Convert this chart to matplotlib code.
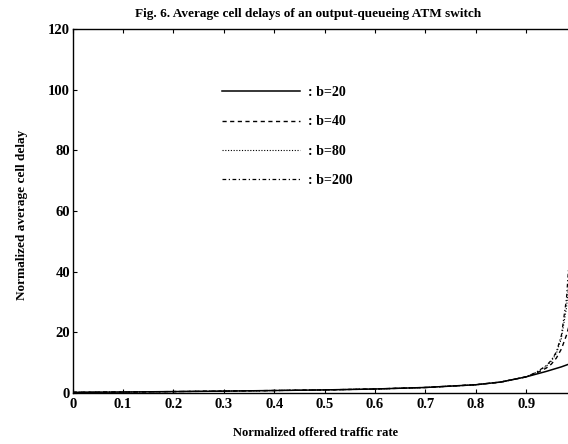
import matplotlib
matplotlib.use("Agg")
import matplotlib.pyplot as plt

rho = [0, 0.1, 0.2, 0.3, 0.4, 0.5, 0.6, 0.7, 0.8, 0.85, 0.9, 0.92, 0.94, 0.95, 0.96, 0.97, 0.98, 0.99]
d_b20 = [0.2, 0.3, 0.45, 0.6, 0.8, 1.0, 1.3, 1.8, 2.7, 3.6, 5.3, 6.2, 7.1, 7.6, 8.1, 8.6, 9.2, 9.8]
d_b40 = [0.2, 0.3, 0.45, 0.6, 0.8, 1.0, 1.3, 1.8, 2.7, 3.6, 5.3, 6.5, 8.2, 9.5, 11.5, 14.5, 19, 25]
d_b80 = [0.2, 0.3, 0.45, 0.6, 0.8, 1.0, 1.3, 1.8, 2.7, 3.6, 5.3, 6.7, 8.8, 10.5, 13, 18, 28, 45]
d_b200 = [0.2, 0.3, 0.45, 0.6, 0.8, 1.0, 1.3, 1.8, 2.7, 3.6, 5.3, 6.8, 9.0, 10.8, 13.5, 19, 31, 55]
labels = [": b=20", ": b=40", ": b=80", ": b=200"]
xticks = [0, 0.1, 0.2, 0.3, 0.4, 0.5, 0.6, 0.7, 0.8, 0.9]
xticklabels = ["0", "0.1", "0.2", "0.3", "0.4", "0.5", "0.6", "0.7", "0.8", "0.9"]
yticks = [0, 20, 40, 60, 80, 100, 120]

plt.rcParams['font.family'] = ['Liberation Serif', 'DejaVu Serif']

fig = plt.figure(figsize=(5.68, 4.44), dpi=100)
ax = fig.add_axes([0.128, 0.115, 0.887, 0.82])

ax.plot(rho, d_b20, color='black', lw=1.1, linestyle='-', label=labels[0])
ax.plot(rho, d_b40, color='black', lw=1.0, linestyle=(0, (3, 2.5)), label=labels[1])
ax.plot(rho, d_b80, color='black', lw=0.8, linestyle=(0, (1, 1.5)), label=labels[2])
ax.plot(rho, d_b200, color='black', lw=0.9, linestyle=(0, (3, 2, 1, 2)), label=labels[3])

ax.set_xlim(0, 1)
ax.set_ylim(0, 120)
ax.set_xticks(xticks)
ax.set_xticklabels(xticklabels)
ax.set_yticks(yticks)
ax.tick_params(direction='in', top=True, right=True, length=3, labelsize=10.5)
ax.tick_params(axis='x', pad=4)
ax.tick_params(axis='y', pad=2)
for lab in ax.get_xticklabels() + ax.get_yticklabels():
    lab.set_fontweight('bold')
for s in ax.spines.values():
    s.set_linewidth(1.0)

fig.text(0.543, 0.968, "Fig. 6. Average cell delays of an output-queueing ATM switch",
         ha='center', va='center', fontsize=9.5, fontweight='bold')
fig.text(0.555, 0.025, "Normalized offered traffic rate", ha='center', va='center',
         fontsize=9, fontweight='bold')
fig.text(0.038, 0.515, "Normalized average cell delay", ha='center', va='center',
         rotation=90, fontsize=9.5, fontweight='bold')

leg = ax.legend(loc='upper left', bbox_to_anchor=(0.391, 0.806), bbox_transform=fig.transFigure,
                frameon=False, fontsize=10, handlelength=5.6, handletextpad=0.6,
                labelspacing=1.17, borderpad=0, borderaxespad=0)
for t in leg.get_texts():
    t.set_fontweight('bold')

fig.savefig("out.png", dpi=100)
